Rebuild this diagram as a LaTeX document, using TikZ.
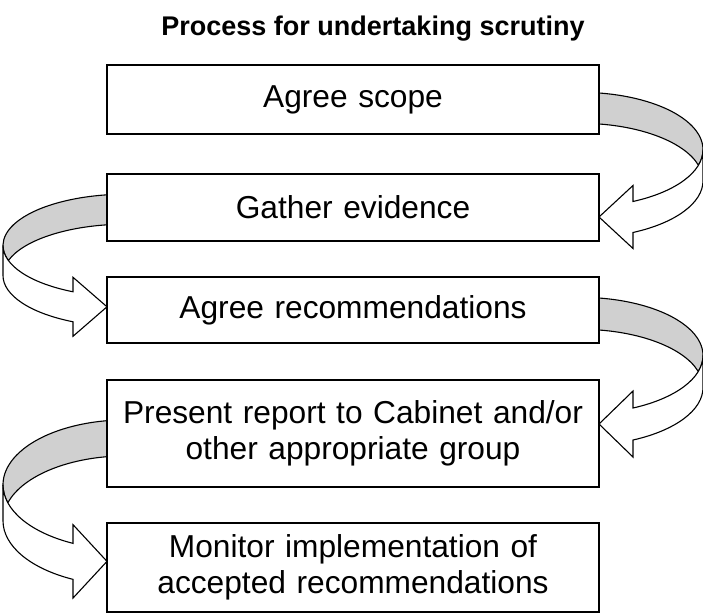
\documentclass[tikz,border=0pt]{standalone}
\usepackage{fontspec}
\setmainfont{Liberation Sans}
\usetikzlibrary{calc}
\definecolor{ribbongray}{RGB}{208,208,208}
\newcommand\boxfont{\fontsize{31.7}{36.5}\selectfont}
\newcommand\titlefont{\fontsize{27}{32}\selectfont\bfseries}
% right-hand ribbon arrow: #1 centre Y of back ellipse, #2 y radius, #3 thickness, #4 head half-width
\newcommand\ribbonright[4]{%
  \pgfmathsetmacro\rtw{asin((#3/2)/#2)}%
  \pgfmathsetmacro\rte{acos(53/123)}%
  \pgfmathsetmacro\rY{#1-#3/2-#2*sin(\rte)}%
  \pgfmathsetmacro\mtw{-\rtw}%
  \pgfmathsetmacro\mte{-\rte}%
  \coordinate (E1) at (580,#1);
  \coordinate (E2) at (580,{#1-#3});
  \filldraw[ribbonback] ($(E1)+(90:123pt and #2pt)$)
    arc[start angle=90,end angle=\mtw,x radius=123pt,y radius=#2pt]
    arc[start angle=\rtw,end angle=90,x radius=123pt,y radius=#2pt] -- cycle;
  \filldraw[ribbonfront] ($(E1)+(0:123pt and #2pt)$)
    -- ($(E2)+(0:123pt and #2pt)$)
    arc[start angle=0,end angle=\mte,x radius=123pt,y radius=#2pt]
    -- (633,{\rY-#4}) -- (599,\rY) -- (633,{\rY+#4})
    -- ($(E1)+(\mte:123pt and #2pt)$)
    arc[start angle=\mte,end angle=0,x radius=123pt,y radius=#2pt] -- cycle;
}
% left-hand ribbon arrow
\newcommand\ribbonleft[4]{%
  \pgfmathsetmacro\rtw{asin((#3/2)/#2)}%
  \pgfmathsetmacro\rte{acos(53/123)}%
  \pgfmathsetmacro\rY{#1-#3/2-#2*sin(\rte)}%
  \pgfmathsetmacro\apt{180+\rtw}%
  \pgfmathsetmacro\amt{180-\rtw}%
  \pgfmathsetmacro\ape{180+\rte}%
  \coordinate (E1) at (126,#1);
  \coordinate (E2) at (126,{#1-#3});
  \filldraw[ribbonback] ($(E1)+(90:123pt and #2pt)$)
    arc[start angle=90,end angle=\apt,x radius=123pt,y radius=#2pt]
    arc[start angle=\amt,end angle=90,x radius=123pt,y radius=#2pt] -- cycle;
  \filldraw[ribbonfront] ($(E1)+(180:123pt and #2pt)$)
    -- ($(E2)+(180:123pt and #2pt)$)
    arc[start angle=180,end angle=\ape,x radius=123pt,y radius=#2pt]
    -- (73,{\rY-#4}) -- (107,\rY) -- (73,{\rY+#4})
    -- ($(E1)+(\ape:123pt and #2pt)$)
    arc[start angle=\ape,end angle=180,x radius=123pt,y radius=#2pt] -- cycle;
}
\begin{document}
\begin{tikzpicture}[x=1pt,y=1pt,
  ribbonback/.style={draw=black, line width=1.1pt, fill=ribbongray, line join=round},
  ribbonfront/.style={draw=black, line width=1.1pt, fill=white, line join=miter},
  stepbox/.style={draw=black, line width=1.1pt, fill=white, rectangle,
    minimum width=492pt, text width=480pt, align=center, inner sep=0pt, font=\boxfont},
  titletext/.style={font=\titlefont, inner sep=0pt, anchor=base}]
\useasboundingbox (0,0) rectangle (703,614);
% ribbon arrows (drawn first, boxes cover their tails)
\ribbonright{464.3}{57.4}{31}{31.5}
\ribbonleft{368.5}{51.3}{30}{29.5}
\ribbonright{258.5}{58.2}{32}{33}
\ribbonleft{129.2}{64.9}{36}{36.7}
% title
\node[titletext] (title) at (373,578) {Process for undertaking scrutiny};
% boxes
\node[stepbox, minimum height=69pt] (b1) at (353,514.5) {Agree scope};
\node[stepbox, minimum height=67pt] (b2) at (353,406.5) {Gather evidence};
\node[stepbox, minimum height=66pt] (b3) at (353,304) {Agree recommendations};
\node[stepbox, minimum height=107pt] (b4) at (353,180.5) {Present report to Cabinet and/or\\other appropriate group};
\node[stepbox, minimum height=89pt] (b5) at (353,46.5) {Monitor implementation of\\accepted recommendations};
\end{tikzpicture}
\end{document}
